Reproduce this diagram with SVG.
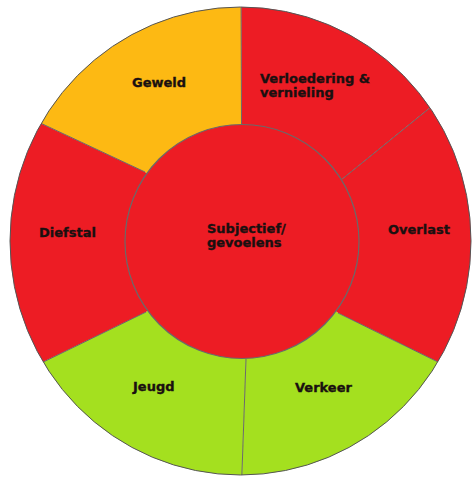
<svg xmlns="http://www.w3.org/2000/svg" width="472" height="477" viewBox="0 0 472 477">
<style>
.red{fill:#ED1C24}
.yel{fill:#FDB913}
.grn{fill:#A4E01F}
.div{stroke:#6a6a6a;stroke-width:1;fill:none}
.lbl{font-family:"DejaVu Sans",Verdana,sans-serif;font-weight:bold;font-size:13px;fill:#1a1010;stroke:#1a1010;stroke-width:0.35}
</style>
<defs>
<clipPath id="outer"><ellipse cx="240.5" cy="241" rx="230.5" ry="234"/></clipPath>
</defs>
<rect width="472" height="477" fill="#ffffff"/>
<g clip-path="url(#outer)">
<g id="geweld"><polygon class="yel" points="242,241.5 145,172 -65,74 -65,-60 241,-60 241.5,124"/></g>
<g id="verloedering"><polygon class="red" points="242,241.5 241.5,124 241,-60 545,-60 523,32 341,180"/></g>
<g id="overlast"><polygon class="red" points="242,241.5 341,180 523,32 545,32 545,413 542,413 338,313"/></g>
<g id="verkeer"><polygon class="grn" points="242,241.5 338,313 542,413 560,560 240,533 246,359"/></g>
<g id="jeugd"><polygon class="grn" points="242,241.5 246,359 240,533 -80,560 -60,412 146,312"/></g>
<g id="diefstal"><polygon class="red" points="242,241.5 146,312 -60,412 -65,74 145,172"/></g>
<g id="connectors">
<line class="div" x1="241.5" y1="124" x2="241" y2="-20"/>
<line class="div" x1="145" y1="172" x2="-12" y2="98.5"/>
<line class="div" x1="341" y1="180" x2="478" y2="69"/>
<line class="div" x1="146" y1="312" x2="-8" y2="387"/>
<line class="div" x1="338" y1="313" x2="491" y2="388"/>
<line class="div" x1="246" y1="359" x2="241" y2="500"/>
</g>
</g>
<ellipse cx="240.5" cy="241" rx="230.5" ry="234" fill="none" stroke="#555" stroke-width="1"/>
<g id="subjectief"><circle cx="242" cy="241.5" r="117" class="red" stroke="#6a6a6a" stroke-width="1.2"/></g>
<g id="labels">
<text class="lbl" x="132" y="87">Geweld</text>
<text class="lbl" x="260" y="83">Verloedering &amp;</text>
<text class="lbl" x="260" y="97">vernieling</text>
<text class="lbl" x="39" y="237">Diefstal</text>
<text class="lbl" x="388" y="234">Overlast</text>
<text class="lbl" x="207" y="233">Subjectief/</text>
<text class="lbl" x="207" y="247">gevoelens</text>
<text class="lbl" x="133" y="391">Jeugd</text>
<text class="lbl" x="295" y="392">Verkeer</text>
</g>
</svg>
